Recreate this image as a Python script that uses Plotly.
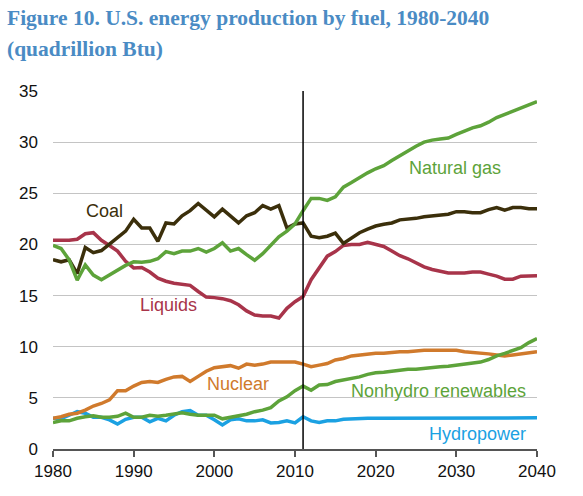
import plotly.graph_objects as go

years = list(range(1980, 2041))

coal = [18.5, 18.3, 18.5, 17.15, 19.7, 19.2, 19.4, 20.05, 20.65, 21.3,
        22.45, 21.6, 21.6, 20.3, 22.1, 22.0, 22.8, 23.3, 24.0, 23.3,
        22.7, 23.45, 22.8, 22.1, 22.8, 23.1, 23.8, 23.45, 23.8, 21.6,
        22.0, 22.1,
        20.8, 20.65, 20.8, 21.1, 20.1, 20.65, 21.15, 21.5, 21.8, 21.97,
        22.1, 22.4, 22.45, 22.55, 22.7, 22.8, 22.85, 22.95, 23.2, 23.2,
        23.1, 23.1, 23.4, 23.6, 23.35, 23.6, 23.6, 23.5, 23.5]

natural_gas = [19.9, 19.6, 18.5, 16.5, 18.0, 17.0, 16.55, 17.0, 17.5, 17.95,
               18.3, 18.25, 18.35, 18.6, 19.3, 19.1, 19.35, 19.35, 19.6, 19.25,
               19.6, 20.15, 19.35, 19.6, 19.0, 18.45, 19.1, 19.9, 20.75, 21.3,
               22.0, 23.3,
               24.5, 24.5, 24.3, 24.65, 25.6, 26.05, 26.55, 27.0, 27.4, 27.7,
               28.2, 28.7, 29.2, 29.6, 30.0, 30.2, 30.3, 30.4, 30.75, 31.1,
               31.4, 31.6, 31.95, 32.4, 32.7, 33.05, 33.3, 33.6, 33.95]

liquids = [20.4, 20.4, 20.4, 20.5, 21.05, 21.15, 20.4, 19.9, 19.35, 18.35,
           17.7, 17.75, 17.3, 16.7, 16.4, 16.2, 16.1, 16.0, 15.4, 14.85,
           14.8, 14.7, 14.5, 14.1, 13.5, 13.1, 13.0, 13.0, 12.8, 13.75,
           14.4, 14.9,
           16.55, 17.7, 18.85, 19.3, 19.9, 20.0, 20.0, 20.2, 20.0, 19.8,
           19.35, 18.9, 18.6, 18.2, 17.8, 17.55, 17.4, 17.2, 17.2, 17.2,
           17.3, 17.3, 17.1, 16.9, 16.6, 16.6, 16.9, 16.95, 16.95]

nuclear = [3.0, 3.15, 3.4, 3.5, 3.8, 4.2, 4.45, 4.8, 5.7, 5.7,
           6.15, 6.5, 6.6, 6.5, 6.8, 7.05, 7.1, 6.6, 7.1, 7.6,
           7.95, 8.05, 8.15, 7.9, 8.3, 8.2, 8.3, 8.5, 8.5, 8.45,
           8.5, 8.3,
           8.05, 8.2, 8.35, 8.7, 8.85, 9.1, 9.2, 9.3, 9.35, 9.35,
           9.45, 9.5, 9.5, 9.6, 9.65, 9.65, 9.65, 9.65, 9.65, 9.5,
           9.45, 9.4, 9.3, 9.2, 9.1, 9.2, 9.3, 9.4, 9.5]

nonhydro = [2.6, 2.75, 2.75, 3.0, 3.15, 3.25, 3.1, 3.1, 3.2, 3.5,
            3.1, 3.1, 3.3, 3.2, 3.3, 3.4, 3.55, 3.4, 3.3, 3.3,
            3.3, 2.95, 3.1, 3.2, 3.4, 3.65, 3.8, 4.05, 4.7, 5.1,
            5.7, 6.15,
            5.75, 6.25, 6.3, 6.6, 6.75, 6.9, 7.05, 7.3, 7.45, 7.5,
            7.6, 7.7, 7.8, 7.8, 7.9, 7.95, 8.05, 8.1, 8.2, 8.3,
            8.35, 8.5, 8.75, 9.1, 9.35, 9.65, 9.9, 10.4, 10.8]

hydropower = [3.0, 2.95, 3.3, 3.65, 3.5, 3.1, 3.1, 2.85, 2.45, 2.9,
              3.1, 3.1, 2.65, 3.0, 2.75, 3.3, 3.65, 3.75, 3.3, 3.3,
              2.85, 2.35, 2.85, 2.95, 2.75, 2.75, 2.85, 2.55, 2.6, 2.75,
              2.55, 3.15,
              2.75, 2.6, 2.75, 2.75, 2.9, 2.95, 2.95, 3.0, 3.0, 3.0,
              3.0, 3.0, 3.0, 3.0, 3.0, 3.0, 3.0, 3.0, 3.0, 3.05,
              3.05, 3.05, 3.05, 3.05, 3.05, 3.05, 3.05, 3.05, 3.05]

x_ticks = [1980, 1990, 2000, 2010, 2020, 2030, 2040]
y_ticks = [0, 5, 10, 15, 20, 25, 30, 35]
divider_year = 2011

C_COAL = "#3B2F0B"
C_GAS = "#5DA33A"
C_LIQ = "#A8344A"
C_NUC = "#D07A2C"
C_HYD = "#1BA1E2"

series = [
    ("Hydropower", hydropower, C_HYD),
    ("Liquids", liquids, C_LIQ),
    ("Coal", coal, C_COAL),
    ("Nuclear", nuclear, C_NUC),
    ("Nonhydro renewables", nonhydro, C_GAS),
    ("Natural gas", natural_gas, C_GAS),
]

fig = go.Figure()
for name, vals, col in series:
    fig.add_trace(go.Scatter(x=years, y=vals, mode="lines", name=name,
                             line=dict(color=col, width=3.5),
                             showlegend=False, hoverinfo="skip"))

font_sans = "Liberation Sans, Arial, sans-serif"

fig.add_shape(type="line", xref="x", yref="y", x0=divider_year, x1=divider_year,
              y0=0, y1=35, line=dict(color="#000000", width=1.5))

labels = [
    ("Coal", 1986.4, 23.3, C_COAL, "center"),
    ("Liquids", 1994.3, 14.05, C_LIQ, "center"),
    ("Natural gas", 2029.8, 27.5, C_GAS, "center"),
    ("Nuclear", 2002.9, 6.35, C_NUC, "center"),
    ("Nonhydro renewables", 2038.9, 5.66, C_GAS, "right"),
    ("Hydropower", 2038.9, 1.5, C_HYD, "right"),
]
for txt, xv, yv, col, anc in labels:
    fig.add_annotation(x=xv, y=yv, xref="x", yref="y", text=txt, showarrow=False,
                       xanchor=anc, yanchor="middle",
                       font=dict(family=font_sans, size=18, color=col))

top_labels = [("History", 1992.3), ("2011", 2006.6), ("Projections", 2019.4)]
for txt, xv in top_labels:
    fig.add_annotation(x=xv, y=36.4, xref="x", yref="y", text=txt, showarrow=False,
                       xanchor="center", yanchor="middle",
                       font=dict(family=font_sans, size=16, color="#111111"))

title_font = dict(family="Liberation Serif, Times New Roman, serif", size=21.5, color="#4A8BC4")
fig.add_annotation(x=-0.1, y=1.205, xref="paper", yref="paper", xanchor="left", yanchor="middle",
                   text="<b>Figure 10. U.S. energy production by fuel, 1980-2040</b>",
                   showarrow=False, font=title_font)
fig.add_annotation(x=-0.1, y=1.118, xref="paper", yref="paper", xanchor="left", yanchor="middle",
                   text="<b>(quadrillion Btu)</b>", showarrow=False, font=title_font)

fig.update_layout(
    width=583, height=496,
    margin=dict(l=53, r=46, t=91, b=47),
    paper_bgcolor="white", plot_bgcolor="white",
    font=dict(family=font_sans, size=17, color="#111111"),
)
fig.update_xaxes(range=[1980, 2040], tickvals=x_ticks, showgrid=False, zeroline=False,
                 showline=True, linecolor="#555555", linewidth=1.5,
                 ticks="outside", ticklen=6, tickcolor="#555555", tickwidth=1.5,
                 tickfont=dict(family=font_sans, size=17, color="#111111"))
fig.update_yaxes(range=[0, 35], tickvals=y_ticks, showgrid=True, gridcolor="#C4C4C4",
                 gridwidth=1.2, zeroline=False, showline=False,
                 ticks="", ticklabelstandoff=14,
                 tickfont=dict(family=font_sans, size=17, color="#111111"))

fig.write_html("out.html", config={"displayModeBar": False},
               post_script="document.body.style.margin='0';document.body.style.overflow='hidden';")
